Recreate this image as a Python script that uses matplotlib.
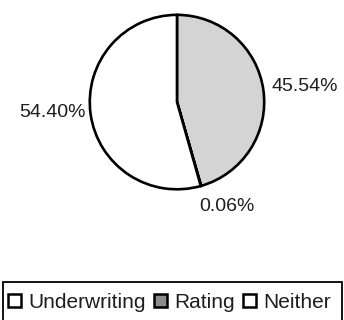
import matplotlib.pyplot as plt
from matplotlib.patches import Patch, Rectangle

# slice order as drawn clockwise from 12 o'clock
slices = ['Rating', 'Neither', 'Underwriting']
shares = [45.54, 0.06, 54.40]
fills = ['#d4d4d4', 'white', 'white']

legend_order = ['Underwriting', 'Rating', 'Neither']
legend_fills = {'Underwriting': 'white', 'Rating': '#8c8c8c', 'Neither': 'white'}

# label offsets in pie units (manually placed like the original)
label_pos = {'Rating': (1.47, 0.18), 'Neither': (0.57, -1.20), 'Underwriting': (-1.43, -0.12)}

plt.rcParams['font.family'] = ['Liberation Sans', 'DejaVu Sans']

fig = plt.figure(figsize=(3.44, 3.20), dpi=100)
ax = fig.add_axes([0.2558, 0.403, 0.5174, 0.556])

ax.pie(shares, colors=fills, startangle=90, counterclock=False,
       wedgeprops=dict(edgecolor='black', linewidth=1.9))
ax.set_xlim(-1.02, 1.02)
ax.set_ylim(-1.02, 1.02)
ax.set_aspect('equal')

for name, val in zip(slices, shares):
    x, y = label_pos[name]
    ax.text(x, y, f'{val:.2f}%', ha='center', va='center', fontsize=14,
            color='#1e1e1e', clip_on=False)

# legend frame runs off the bottom edge, as in the scan
fig.patches.append(Rectangle((3 / 344, -0.05), 339 / 344, 0.05 + 38 / 320,
                             transform=fig.transFigure, facecolor='none',
                             edgecolor='black', linewidth=1.3))

handles = [Patch(facecolor=legend_fills[n], edgecolor='black', linewidth=1.8, label=n)
           for n in legend_order]
leg = fig.legend(handles=handles, ncol=3, loc='center left',
                 bbox_to_anchor=(8 / 344, 18 / 320), frameon=False, fontsize=15,
                 handlelength=0.62, handleheight=0.6, handletextpad=0.35,
                 columnspacing=0.4, borderpad=0, borderaxespad=0)
for t in leg.get_texts():
    t.set_color('#1e1e1e')

fig.savefig('out.png', dpi=100)
